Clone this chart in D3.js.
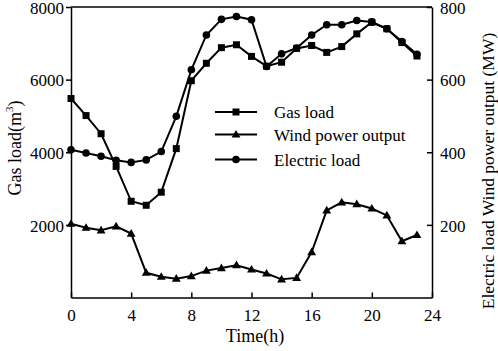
<!DOCTYPE html>
<meta charset="utf-8">
<style>
    body { margin: 0; background: #fff; }
    svg { display: block; font-family: "Liberation Serif", "Times New Roman", serif; }
    .axis path, .axis line { stroke: #000; stroke-width: 1.5px; }
    .axis text { font-family: "Liberation Serif", serif; font-size: 17px; fill: #000; }
    .serie { fill: none; stroke: #000; stroke-width: 2px; }
</style>
<script src="https://cdn.jsdelivr.net/npm/d3@7"></script>
<svg width="498" height="351"></svg>
<script>
    // horas 0..23
    var horas = d3.range(0, 24);

    // carga de gas (m3)
    var gasLoad = [5480, 5010, 4510, 3610, 2650, 2540, 2900, 4100, 5970, 6450, 6880, 6960,
        6640, 6370, 6480, 6860, 6940, 6750, 6910, 7260, 7580, 7400, 7020, 6650];

    // saida eolica (MW)
    var windOutput = [203, 192, 185, 196, 176, 68, 57, 52, 59, 74, 81, 89,
        77, 66, 50, 54, 125, 240, 262, 257, 245, 226, 155, 172];

    // carga eletrica (MW)
    var electricLoad = [407, 398, 389, 378, 372, 379, 402, 499, 627, 723, 766, 774,
        765, 636, 671, 687, 723, 751, 751, 763, 759, 740, 705, 670];

    var xTicks = [0, 4, 8, 12, 16, 20, 24];
    var leftTicks = [2000, 4000, 6000, 8000];
    var rightTicks = [200, 400, 600, 800];

    var svg = d3.select("svg");
    var margemEsq = 71, margemDir = 432, margemSup = 7, margemInf = 297.5;

    var x = d3.scaleLinear().domain([0, 24]).range([margemEsq, margemDir]);
    var y = d3.scaleLinear().domain([0, 8000]).range([margemInf, margemSup]);
    var y2 = d3.scaleLinear().domain([0, 800]).range([margemInf, margemSup]);

    // moldura superior
    svg.append("line")
        .attr("x1", margemEsq).attr("x2", margemDir)
        .attr("y1", margemSup).attr("y2", margemSup)
        .attr("stroke", "#000").attr("stroke-width", 1.5);

    svg.append("g")
        .attr("class", "axis")
        .attr("transform", "translate(0," + margemInf + ")")
        .call(d3.axisBottom(x).tickValues(xTicks).tickSizeInner(-5).tickSizeOuter(0).tickPadding(11));

    svg.append("g")
        .attr("class", "axis")
        .attr("transform", "translate(" + margemEsq + ",0)")
        .call(d3.axisLeft(y).tickValues(leftTicks).tickFormat(d3.format("d")).tickSizeInner(5).tickSizeOuter(0).tickPadding(2))
        .selectAll("text").attr("dy", "0.36em");

    svg.append("g")
        .attr("class", "axis")
        .attr("transform", "translate(" + margemDir + ",0)")
        .call(d3.axisRight(y2).tickValues(rightTicks).tickSizeInner(-5).tickSizeOuter(0).tickPadding(8))
        .selectAll("text").attr("dy", "0.36em");

    var line = d3.line()
        .x(function (d) { return x(d.h); })
        .y(function (d) { return d.y; });

    var series = [
        { nome: "Gas load", marca: "square", pts: gasLoad.map(function (v, i) { return { h: horas[i], y: y(v) }; }) },
        { nome: "Wind power output", marca: "triangle", pts: windOutput.map(function (v, i) { return { h: horas[i], y: y2(v) }; }) },
        { nome: "Electric load", marca: "circle", pts: electricLoad.map(function (v, i) { return { h: horas[i], y: y2(v) }; }) }
    ];

    function marcador(g, tipo, cx, cy) {
        if (tipo == "square")
            g.append("rect").attr("x", cx - 3.5).attr("y", cy - 3.5).attr("width", 7).attr("height", 7);
        else if (tipo == "circle")
            g.append("circle").attr("cx", cx).attr("cy", cy).attr("r", 3.8);
        else
            g.append("path").attr("d", d3.symbol(d3.symbolTriangle, 34)()).attr("transform", "translate(" + cx + "," + (cy + 0.5) + ")");
    }

    series.forEach(function (s) {
        svg.append("path").attr("class", "serie").attr("d", line(s.pts));
        var g = svg.append("g").attr("fill", "#000");
        s.pts.forEach(function (p) { marcador(g, s.marca, x(p.h), p.y); });
    });

    // legenda
    var legendY = [112, 134.5, 159.5];
    series.forEach(function (s, i) {
        var g = svg.append("g").attr("fill", "#000");
        g.append("line").attr("x1", 215).attr("x2", 257)
            .attr("y1", legendY[i]).attr("y2", legendY[i])
            .attr("stroke", "#000").attr("stroke-width", 2);
        marcador(g, s.marca, 236, legendY[i]);
        g.append("text").attr("x", 274).attr("y", legendY[i] + 6)
            .attr("font-size", 17).text(s.nome);
    });

    // titulos dos eixos
    svg.append("text")
        .attr("x", 255).attr("y", 342)
        .attr("text-anchor", "middle").attr("font-size", 18)
        .text("Time(h)");

    var yl = svg.append("text")
        .attr("transform", "translate(21,148) rotate(-90)")
        .attr("text-anchor", "middle").attr("font-size", 18);
    yl.append("tspan").text("Gas load(m");
    yl.append("tspan").attr("font-size", 11).attr("dy", -8).text("3");
    yl.append("tspan").attr("dy", 8).text(")");

    svg.append("text")
        .attr("transform", "translate(494,171) rotate(-90)")
        .attr("text-anchor", "middle").attr("font-size", 17.5)
        .text("Electric load Wind power output (MW)");
</script>
